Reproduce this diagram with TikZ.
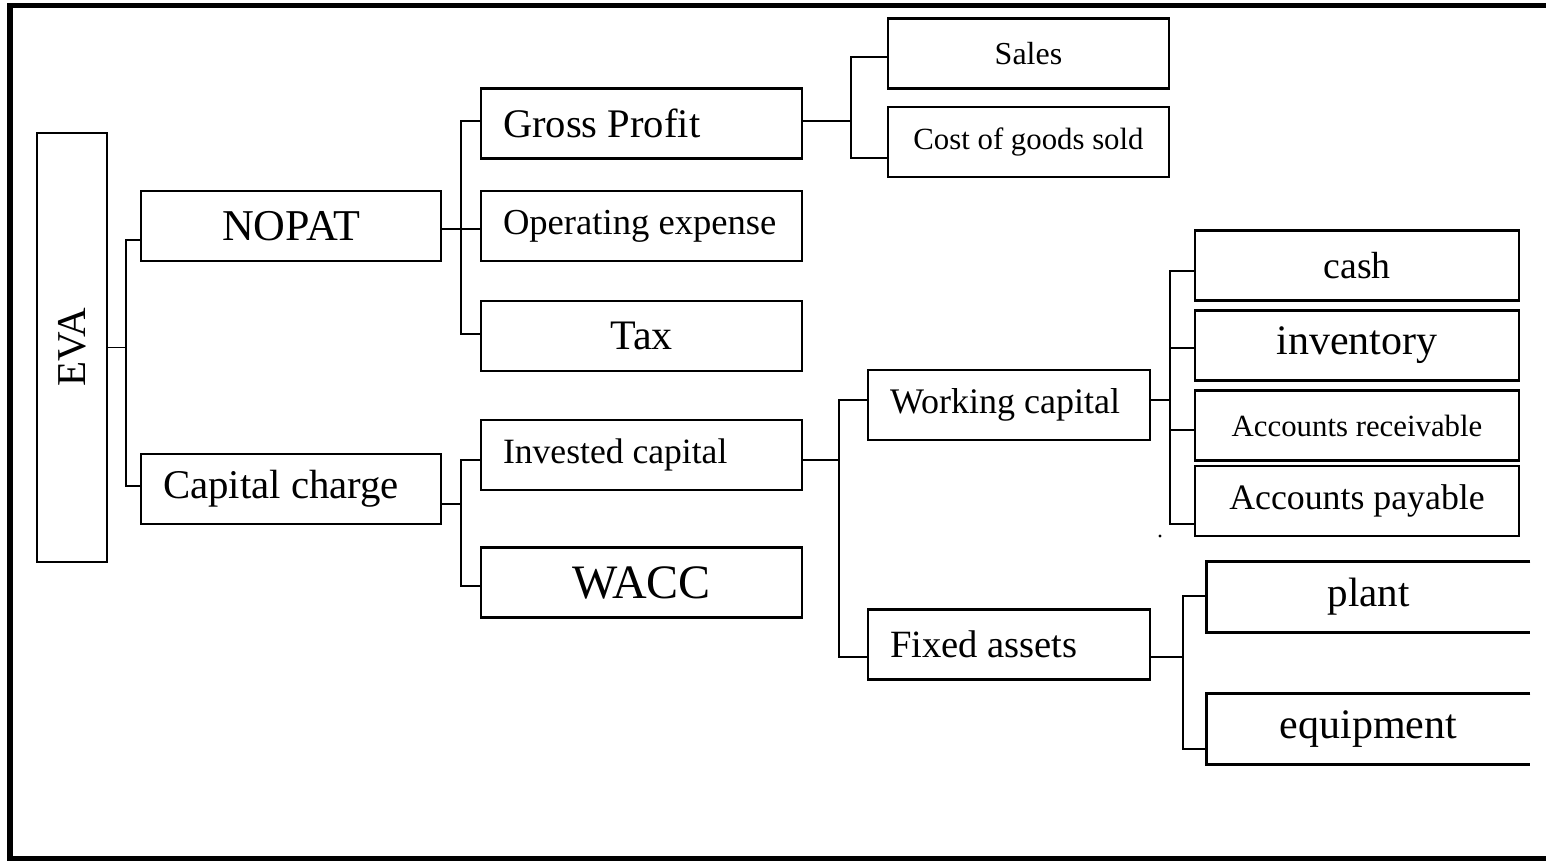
\documentclass[tikz,border=0pt]{standalone}
\usepackage{fontspec}
\setmainfont{Liberation Serif}
\usepackage{graphicx}
\usepackage{tikz}
\usetikzlibrary{positioning, calc}
\tikzset{
 block/.style = {
    rectangle, draw, line width=1.2pt,
    minimum width=160.5pt,
    minimum height=35pt,
    inner sep=0pt,
    text centered},
 leftblock/.style = {
    block, inner xsep=11pt,
    text width=#1, align=flush left},
 openblock/.style = {
    rectangle, minimum width=161.5pt,
    minimum height=35pt, inner sep=0pt},
 link/.style = {
    draw, line width=0.9pt},
 fs/.style = {
    font=\fontsize{#1}{#1}\selectfont},
}
\begin{document}
\begin{tikzpicture}[x=0.5pt, y=-0.5pt]
\useasboundingbox (0,0) rectangle (1546,861);

% Frame
\draw [line width=2.8pt] (1550,5.5) -- (10,5.5) -- (10,858.5) -- (1550,858.5);

% Place nodes
\node [block, minimum width=35pt, minimum height=214.5pt, fs=20.5] (eva) at (72,347.5) {\rotatebox{90}{EVA}};
\node [block, minimum width=150pt, fs=22]                (nopat)    at (291,226)   {NOPAT};
\node [leftblock=128pt, minimum width=150pt, fs=20.4]    (capital)  at (291,489)   {Capital charge};

\node [leftblock=138.5pt, fs=20.3]  (gross)    at (641.5,123.5) {Gross Profit};
\node [leftblock=138.5pt, fs=18.3]  (opex)     at (641.5,226)   {Operating expense};
\node [block, fs=21]                (tax)      at (641.5,336)   {Tax};
\node [leftblock=138.5pt, fs=17.8]  (invested) at (641.5,455)   {Invested capital};
\node [block, fs=24]                (wacc)     at (641.5,582.5) {WACC};

\node [block, minimum width=140.5pt, fs=16]      (sales)   at (1028.5,53.5) {Sales};
\node [block, minimum width=140.5pt, fs=15.4]    (cogs)    at (1028.5,142)  {Cost of goods sold};
\node [leftblock=119pt, minimum width=141pt, fs=18]   (working) at (1009,405)   {Working capital};
\node [leftblock=119pt, minimum width=141pt, fs=19.3] (fixed)   at (1009,644.5) {Fixed assets};

\node [block, minimum width=162pt, fs=18.9] (cash)       at (1357,265.5) {cash};
\node [block, minimum width=162pt, fs=21]   (inventory)  at (1357,345.5) {inventory};
\node [block, minimum width=162pt, fs=15.4] (receivable) at (1357,425.5) {Accounts receivable};
\node [block, minimum width=162pt, fs=17.9] (payable)    at (1357,501)   {Accounts payable};

\node [openblock, fs=20.5] (plant)     at (1368.5,597) {plant};
\node [openblock, fs=21]   (equipment) at (1368.5,729) {equipment};
\draw [line width=1.2pt] (plant.north east) -- (plant.north west) -- (plant.south west) -- (plant.south east);
\draw [line width=1.2pt] (equipment.north east) -- (equipment.north west) -- (equipment.south west) -- (equipment.south east);

% Connectors
\path [link] (eva.east) -- ++(18,0) coordinate (evabus);
\path [link] (nopat.west |- 0,240) -| (evabus) |- (capital.west |- 0,486);

\path [link] (nopat.east |- 0,229) -- ++(19,0) coordinate (nopatbus);
\path [link] (gross.west |- 0,121) -| (nopatbus) |- (tax.west |- 0,334);
\path [link] (nopatbus) -- (opex.west |- nopatbus);

\path [link] (capital.east |- 0,504) -- ++(19,0) coordinate (capbus);
\path [link] (invested.west |- 0,460) -| (capbus) |- (wacc.west |- 0,586);

\path [link] (gross.east |- 0,121) -- ++(48,0) coordinate (grossbus);
\path [link] (sales.west |- 0,57) -| (grossbus) |- (cogs.west |- 0,158);

\path [link] (invested.east |- 0,460) -- ++(36,0) coordinate (invbus);
\path [link] (working.west |- 0,400) -| (invbus) |- (fixed.west |- 0,657);

\path [link] (working.east |- 0,400) -- ++(19,0) coordinate (wcbus);
\path [link] (cash.west |- 0,271) -| (wcbus) |- (payable.west |- 0,524);
\path [link] (wcbus |- 0,348) -- (inventory.west |- 0,348);
\path [link] (wcbus |- 0,430) -- (receivable.west |- 0,430);

\path [link] (fixed.east |- 0,657) -- ++(32,0) coordinate (fabus);
\path [link] (plant.west |- 0,596) -| (fabus) |- (equipment.west |- 0,749);

\fill (1160,536) circle (0.8pt);
\end{tikzpicture}
\end{document}
